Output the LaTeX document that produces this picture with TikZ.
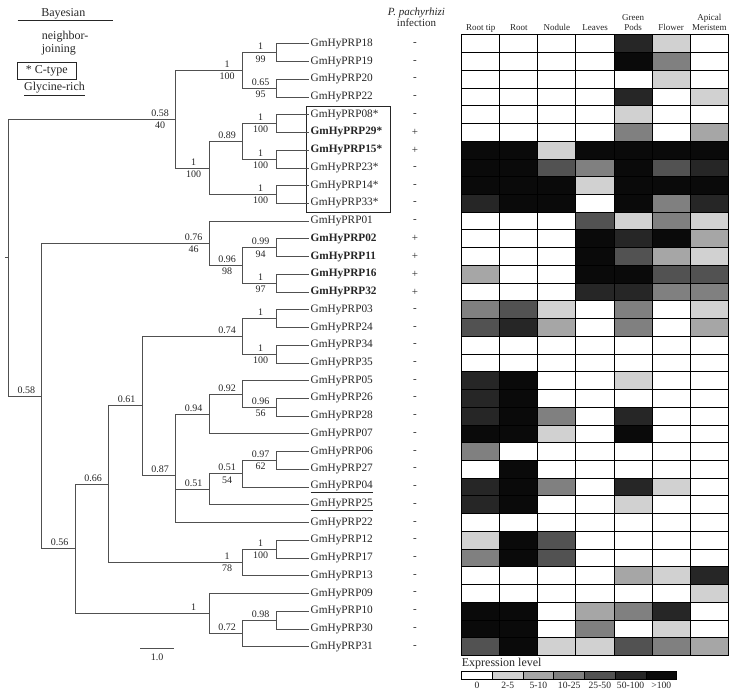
\documentclass[tikz,border=0pt]{standalone}
\usepackage{fontspec}
\setmainfont{Liberation Serif}
\usepackage{xcolor}
\definecolor{treegray}{RGB}{80, 80, 80}
\usepackage{tikz}
\usetikzlibrary{positioning}

\begin{document}
\begin{tikzpicture}[
    x=1pt, y=-17.73pt,
    every node/.style={align=center, text=black!85},
    branch/.style={draw=treegray, line width=0.8pt},
    gene/.style={anchor=west, inner sep=2pt, font=\fontsize{11.3}{13}\selectfont},
    bay/.style={anchor=south, xshift=-15.5pt, inner sep=2.5pt, font=\fontsize{10}{12}\selectfont},
    nj/.style={anchor=north, xshift=-15.5pt, inner sep=2.5pt, font=\fontsize{10}{12}\selectfont},
    sign/.style={font=\fontsize{11}{13}\selectfont},
    head/.style={anchor=south, inner sep=1pt, text depth=0pt, font=\fontsize{9}{10}\selectfont},
    legtext/.style={font=\fontsize{12}{13.3}\selectfont},
    keytext/.style={inner sep=2.5pt, font=\fontsize{9.6}{11}\selectfont},
    cell/.style={draw=black, line width=1pt},
    lcell/.style={draw=black, line width=0.8pt, minimum width=30.7pt, minimum height=8.3pt, inner sep=0pt, outer sep=0pt},
    lvl0/.style={fill=white},
    lvl1/.style={fill=black!18},
    lvl2/.style={fill=black!35},
    lvl3/.style={fill=black!50},
    lvl4/.style={fill=black!68},
    lvl5/.style={fill=black!85},
    lvl6/.style={fill=black!96}
]
\useasboundingbox (0,-1.472) rectangle (730,37.67);

% Legend of the tree
\node[legtext] (bayes) at (63.3,-0.72) {Bayesian};
\coordinate (rulel) at (17.7,-0.344);
\coordinate (ruler) at (113.3,-0.344);
\draw[black!85, line width=0.8pt] (rulel) -- (ruler);
\node[legtext, anchor=west, align=left, inner sep=2pt] (njlab) at (39.7,0.97) {neighbor-\\joining};
\node[legtext, draw=black!85, line width=0.8pt, minimum width=58.3pt, minimum height=16.7pt, inner sep=1pt] (ctype) at (46.8,2.515) {* C-type};
\node[legtext] (glyrich) at (54.5,3.55) {\underline{Glycine-rich}};

% Gene names
\node[gene] (g18) at (308.5,1) {GmHyPRP18};
\node[gene] (g19) at (308.5,2) {GmHyPRP19};
\node[gene] (g20) at (308.5,3) {GmHyPRP20};
\node[gene] (g22) at (308.5,4) {GmHyPRP22};
\node[gene] (g08) at (308.5,5) {GmHyPRP08*};
\node[gene] (g29) at (308.5,6) {\textbf{GmHyPRP29*}};
\node[gene] (g15) at (308.5,7) {\textbf{GmHyPRP15*}};
\node[gene] (g23) at (308.5,8) {GmHyPRP23*};
\node[gene] (g14) at (308.5,9) {GmHyPRP14*};
\node[gene] (g33) at (308.5,10) {GmHyPRP33*};
\node[gene] (g01) at (308.5,11) {GmHyPRP01};
\node[gene] (g02) at (308.5,12) {\textbf{GmHyPRP02}};
\node[gene] (g11) at (308.5,13) {\textbf{GmHyPRP11}};
\node[gene] (g16) at (308.5,14) {\textbf{GmHyPRP16}};
\node[gene] (g32) at (308.5,15) {\textbf{GmHyPRP32}};
\node[gene] (g03) at (308.5,16) {GmHyPRP03};
\node[gene] (g24) at (308.5,17) {GmHyPRP24};
\node[gene] (g34) at (308.5,18) {GmHyPRP34};
\node[gene] (g35) at (308.5,19) {GmHyPRP35};
\node[gene] (g05) at (308.5,20) {GmHyPRP05};
\node[gene] (g26) at (308.5,21) {GmHyPRP26};
\node[gene] (g28) at (308.5,22) {GmHyPRP28};
\node[gene] (g07) at (308.5,23) {GmHyPRP07};
\node[gene] (g06) at (308.5,24) {GmHyPRP06};
\node[gene] (g27) at (308.5,25) {GmHyPRP27};
\node[gene] (g04) at (308.5,26) {\underline{GmHyPRP04}};
\node[gene] (g25) at (308.5,27) {\underline{GmHyPRP25}};
\node[gene] (g22b) at (308.5,28) {GmHyPRP22};
\node[gene] (g12) at (308.5,29) {GmHyPRP12};
\node[gene] (g17) at (308.5,30) {GmHyPRP17};
\node[gene] (g13) at (308.5,31) {GmHyPRP13};
\node[gene] (g09) at (308.5,32) {GmHyPRP09};
\node[gene] (g10) at (308.5,33) {GmHyPRP10};
\node[gene] (g30) at (308.5,34) {GmHyPRP30};
\node[gene] (g31) at (308.5,35) {GmHyPRP31};

% C-type box
\draw[black!85, line width=0.8pt] (306.7,4.55) rectangle (390.7,10.5);

% Inner nodes of the tree
\coordinate (stub) at (4.8,13.057);
\coordinate (root) at (8.3,13.057);
\coordinate (nA) at (175.6,5.25);
\coordinate (nA1) at (242.5,2.5);
\coordinate (n1819) at (276,1.5);
\coordinate (n2022) at (276,3.5);
\coordinate (nCt) at (209.1,8);
\coordinate (nB1) at (242.5,6.5);
\coordinate (n0829) at (276,5.5);
\coordinate (n1523) at (276,7.5);
\coordinate (n1433) at (276,9.5);
\coordinate (nB) at (41.8,20.865);
\coordinate (nC) at (209.1,12.25);
\coordinate (nD) at (242.5,13.5);
\coordinate (n0211) at (276,12.5);
\coordinate (n1632) at (276,14.5);
\coordinate (nE) at (75.2,29.479);
\coordinate (nF) at (108.7,25.833);
\coordinate (nG) at (142.1,21.417);
\coordinate (nI) at (242.5,17.5);
\coordinate (n0324) at (276,16.5);
\coordinate (n3435) at (276,18.5);
\coordinate (nJ) at (175.6,25.333);
\coordinate (nK) at (209.1,21.875);
\coordinate (nL) at (242.5,20.75);
\coordinate (n2628) at (276,21.5);
\coordinate (nM) at (209.1,26.125);
\coordinate (nN) at (242.5,25.25);
\coordinate (n0627) at (276,24.5);
\coordinate (nH) at (242.5,30.25);
\coordinate (n1217) at (276,29.5);
\coordinate (nO) at (209.1,33.125);
\coordinate (nP) at (242.5,34.25);
\coordinate (n1030) at (276,33.5);

% Branches
\draw[branch] (stub) -- (root);
\draw[branch] (root) |- (nA);
\draw[branch] (root) |- (nB);
\draw[branch] (nA) |- (nA1);
\draw[branch] (nA) |- (nCt);
\draw[branch] (nA1) |- (n1819);
\draw[branch] (nA1) |- (n2022);
\draw[branch] (n1819) |- (g18.west);
\draw[branch] (n1819) |- (g19.west);
\draw[branch] (n2022) |- (g20.west);
\draw[branch] (n2022) |- (g22.west);
\draw[branch] (nCt) |- (nB1);
\draw[branch] (nCt) |- (n1433);
\draw[branch] (nB1) |- (n0829);
\draw[branch] (nB1) |- (n1523);
\draw[branch] (n0829) |- (g08.west);
\draw[branch] (n0829) |- (g29.west);
\draw[branch] (n1523) |- (g15.west);
\draw[branch] (n1523) |- (g23.west);
\draw[branch] (n1433) |- (g14.west);
\draw[branch] (n1433) |- (g33.west);
\draw[branch] (nB) |- (nC);
\draw[branch] (nB) |- (nE);
\draw[branch] (nC) |- (g01.west);
\draw[branch] (nC) |- (nD);
\draw[branch] (nD) |- (n0211);
\draw[branch] (nD) |- (n1632);
\draw[branch] (n0211) |- (g02.west);
\draw[branch] (n0211) |- (g11.west);
\draw[branch] (n1632) |- (g16.west);
\draw[branch] (n1632) |- (g32.west);
\draw[branch] (nE) |- (nF);
\draw[branch] (nE) |- (nO);
\draw[branch] (nF) |- (nG);
\draw[branch] (nF) |- (nH);
\draw[branch] (nG) |- (nI);
\draw[branch] (nG) |- (nJ);
\draw[branch] (nI) |- (n0324);
\draw[branch] (nI) |- (n3435);
\draw[branch] (n0324) |- (g03.west);
\draw[branch] (n0324) |- (g24.west);
\draw[branch] (n3435) |- (g34.west);
\draw[branch] (n3435) |- (g35.west);
\draw[branch] (nJ) |- (nK);
\draw[branch] (nJ) |- (nM);
\draw[branch] (nJ) |- (g22b.west);
\draw[branch] (nK) |- (nL);
\draw[branch] (nK) |- (g07.west);
\draw[branch] (nL) |- (g05.west);
\draw[branch] (nL) |- (n2628);
\draw[branch] (n2628) |- (g26.west);
\draw[branch] (n2628) |- (g28.west);
\draw[branch] (nM) |- (nN);
\draw[branch] (nM) |- (g25.west);
\draw[branch] (nN) |- (n0627);
\draw[branch] (nN) |- (g04.west);
\draw[branch] (n0627) |- (g06.west);
\draw[branch] (n0627) |- (g27.west);
\draw[branch] (nH) |- (n1217);
\draw[branch] (nH) |- (g13.west);
\draw[branch] (n1217) |- (g12.west);
\draw[branch] (n1217) |- (g17.west);
\draw[branch] (nO) |- (g09.west);
\draw[branch] (nO) |- (nP);
\draw[branch] (nP) |- (n1030);
\draw[branch] (nP) |- (g31.west);
\draw[branch] (n1030) |- (g10.west);
\draw[branch] (n1030) |- (g30.west);

% Support values (Bayesian above, neighbor-joining below)
\node[bay] (bA) at (nA) {0.58};      \node[nj] (jA) at (nA) {40};
\node[bay] (bA1) at (nA1) {1};       \node[nj] (jA1) at (nA1) {100};
\node[bay] (b1819) at (n1819) {1};   \node[nj] (j1819) at (n1819) {99};
\node[bay] (b2022) at (n2022) {0.65};\node[nj] (j2022) at (n2022) {95};
\node[bay] (bCt) at (nCt) {1};       \node[nj] (jCt) at (nCt) {100};
\node[bay] (bB1) at (nB1) {0.89};
\node[bay] (b0829) at (n0829) {1};   \node[nj] (j0829) at (n0829) {100};
\node[bay] (b1523) at (n1523) {1};   \node[nj] (j1523) at (n1523) {100};
\node[bay] (b1433) at (n1433) {1};   \node[nj] (j1433) at (n1433) {100};
\node[bay] (bB) at (nB) {0.58};
\node[bay] (bC) at (nC) {0.76};      \node[nj] (jC) at (nC) {46};
\node[bay] (bD) at (nD) {0.96};      \node[nj] (jD) at (nD) {98};
\node[bay] (b0211) at (n0211) {0.99};\node[nj] (j0211) at (n0211) {94};
\node[bay] (b1632) at (n1632) {1};   \node[nj] (j1632) at (n1632) {97};
\node[bay] (bE) at (nE) {0.56};
\node[bay] (bF) at (nF) {0.66};
\node[bay] (bG) at (nG) {0.61};
\node[bay] (bI) at (nI) {0.74};
\node[bay] (b0324) at (n0324) {1};
\node[bay] (b3435) at (n3435) {1};   \node[nj] (j3435) at (n3435) {100};
\node[bay] (bJ) at (nJ) {0.87};
\node[bay] (bK) at (nK) {0.94};
\node[bay] (bL) at (nL) {0.92};
\node[bay] (b2628) at (n2628) {0.96};\node[nj] (j2628) at (n2628) {56};
\node[bay] (bM) at (nM) {0.51};
\node[bay] (bN) at (nN) {0.51};      \node[nj] (jN) at (nN) {54};
\node[bay] (b0627) at (n0627) {0.97};\node[nj] (j0627) at (n0627) {62};
\node[bay] (bH) at (nH) {1};         \node[nj] (jH) at (nH) {78};
\node[bay] (b1217) at (n1217) {1};   \node[nj] (j1217) at (n1217) {100};
\node[bay] (bO) at (nO) {1};
\node[bay] (bP) at (nP) {0.72};
\node[bay] (b1030) at (n1030) {0.98};

% Scale bar
\coordinate (sbl) at (140,35.09);
\coordinate (sbr) at (174,35.09);
\draw[branch] (sbl) -- (sbr);
\node[font=\fontsize{10}{12}\selectfont] (sblab) at (157,35.6) {1.0};

% Infection column
\node[anchor=south, inner sep=1pt, font=\fontsize{11}{10.7}\selectfont] (infhead) at (416.5,0.107) {\textit{P. pachyrhizi}\\infection};
\foreach \s [count=\r] in {-,-,-,-,-,+,+,-,-,-,-,+,+,+,+,-,-,-,-,-,-,-,-,-,-,-,-,-,-,-,-,-,-,-,-}
  \node[sign] (s\r) at (415,\r) {\s};

% Tissue headers
\node[head] (hroottip) at (480.7,0.33) {Root tip};
\node[head] (hroot) at (518.8,0.33) {Root};
\node[head] (hnodule) at (556.9,0.33) {Nodule};
\node[head] (hleaves) at (595.0,0.33) {Leaves};
\node[head] (hpods) at (633.1,0.33) {Green\\Pods};
\node[head] (hflower) at (671.2,0.33) {Flower};
\node[head] (hmeri) at (709.3,0.33) {Apical\\Meristem};

% Expression heat map
\foreach \r/\lvs in {
 1/{0,0,0,0,5,1,0}, 2/{0,0,0,0,6,3,0}, 3/{0,0,0,0,0,1,0}, 4/{0,0,0,0,5,0,1},
 5/{0,0,0,0,1,0,0}, 6/{0,0,0,0,3,0,2}, 7/{6,6,1,6,6,6,6}, 8/{6,6,4,3,6,4,5},
 9/{6,6,6,1,6,6,6}, 10/{5,6,6,0,6,3,5}, 11/{0,0,0,4,1,3,1}, 12/{0,0,0,6,5,6,2},
 13/{0,0,0,6,4,2,1}, 14/{2,0,0,6,6,4,4}, 15/{0,0,0,5,5,3,3}, 16/{3,4,1,0,3,0,1},
 17/{4,5,2,0,3,0,2}, 18/{0,0,0,0,0,0,0}, 19/{0,0,0,0,0,0,0}, 20/{5,6,0,0,1,0,0},
 21/{5,6,0,0,0,0,0}, 22/{5,6,3,0,5,0,0}, 23/{6,6,1,0,6,0,0}, 24/{3,0,0,0,0,0,0},
 25/{0,6,0,0,0,0,0}, 26/{5,6,3,0,5,1,0}, 27/{5,6,0,0,1,0,0}, 28/{0,0,0,0,0,0,0},
 29/{1,6,4,0,0,0,0}, 30/{3,6,4,0,0,0,0}, 31/{0,0,0,0,2,1,5}, 32/{0,0,0,0,0,0,1},
 33/{6,6,0,2,3,5,0}, 34/{6,6,0,3,0,1,0}, 35/{4,6,1,1,4,3,2}}
  \foreach \v [count=\c] in \lvs
    \filldraw[cell, lvl\v] ({461.7+38.09*(\c-1)},{\r-0.5}) rectangle ++(38.09,1);

% Expression level key
\node[lcell, lvl0, anchor=north west] (k0) at (461.7,36.37) {};
\node[lcell, lvl1, right=0pt of k0] (k1) {};
\node[lcell, lvl2, right=0pt of k1] (k2) {};
\node[lcell, lvl3, right=0pt of k2] (k3) {};
\node[lcell, lvl4, right=0pt of k3] (k4) {};
\node[lcell, lvl5, right=0pt of k4] (k5) {};
\node[lcell, lvl6, right=0pt of k5] (k6) {};
\node[legtext, above right=0.5pt and -1pt of k0.north west, inner sep=1pt] (keyhead) {Expression level};
\node[keytext, below=0pt of k0] (v0) {0};
\node[keytext, below=0pt of k1] (v1) {2-5};
\node[keytext, below=0pt of k2] (v2) {5-10};
\node[keytext, below=0pt of k3] (v3) {10-25};
\node[keytext, below=0pt of k4] (v4) {25-50};
\node[keytext, below=0pt of k5] (v5) {50-100};
\node[keytext, below=0pt of k6] (v6) {>100};

\end{tikzpicture}
\end{document}
